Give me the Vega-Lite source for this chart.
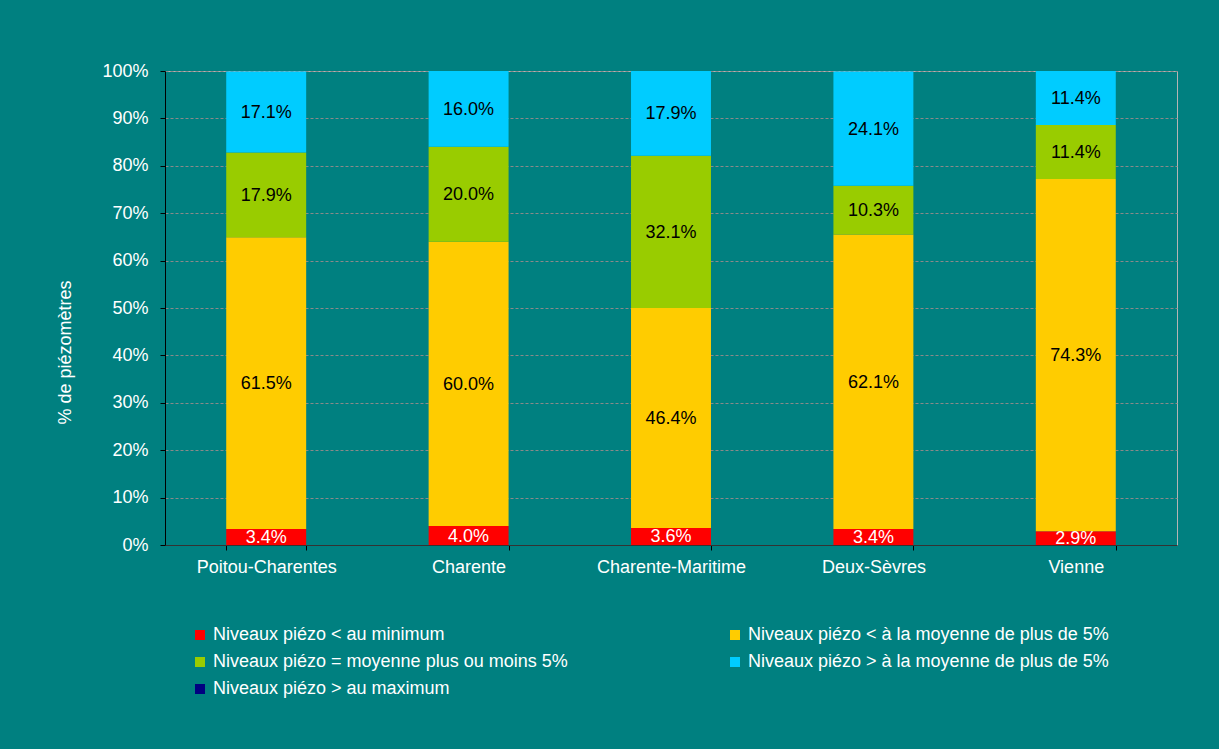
{
  "$schema": "https://vega.github.io/schema/vega-lite/v6.json",
  "width": 1012,
  "height": 474,
  "autosize": {"type": "none"},
  "padding": {"left": 165, "top": 71, "right": 42, "bottom": 204},
  "background": "#008080",
  "config": {
    "view": {"stroke": "#b4b4b4", "strokeWidth": 1},
    "font": "Liberation Sans",
    "axisY": {
      "values": [0, 0.1, 0.2, 0.3, 0.4, 0.5, 0.6, 0.7, 0.8, 0.9, 1],
      "format": ".0%",
      "grid": true,
      "gridColor": "#8a8a8a",
      "gridDash": [3, 2],
      "gridWidth": 1,
      "domainColor": "#000000",
      "tickColor": "#000000",
      "tickSize": 5,
      "labelFontSize": 18,
      "labelColor": "#ffffff",
      "labelPadding": 12,
      "titleFontSize": 18,
      "titleFontWeight": "normal",
      "titleColor": "#ffffff",
      "titleX": -100,
      "titleY": 281,
      "titleAlign": "center",
      "titleBaseline": "middle",
      "titleAngle": 270
    }
  },
  "data": {
    "values": [
      {"region": "Poitou-Charentes", "cat": "Niveaux piézo < au minimum", "order": 1, "value": 0.034},
      {"region": "Poitou-Charentes", "cat": "Niveaux piézo < à la moyenne de plus de 5%", "order": 2, "value": 0.615},
      {"region": "Poitou-Charentes", "cat": "Niveaux piézo = moyenne plus ou moins 5%", "order": 3, "value": 0.179},
      {"region": "Poitou-Charentes", "cat": "Niveaux piézo > à la moyenne de plus de 5%", "order": 4, "value": 0.171},
      {"region": "Poitou-Charentes", "cat": "Niveaux piézo > au maximum", "order": 5, "value": 0},
      {"region": "Charente", "cat": "Niveaux piézo < au minimum", "order": 1, "value": 0.040},
      {"region": "Charente", "cat": "Niveaux piézo < à la moyenne de plus de 5%", "order": 2, "value": 0.600},
      {"region": "Charente", "cat": "Niveaux piézo = moyenne plus ou moins 5%", "order": 3, "value": 0.200},
      {"region": "Charente", "cat": "Niveaux piézo > à la moyenne de plus de 5%", "order": 4, "value": 0.160},
      {"region": "Charente", "cat": "Niveaux piézo > au maximum", "order": 5, "value": 0},
      {"region": "Charente-Maritime", "cat": "Niveaux piézo < au minimum", "order": 1, "value": 0.036},
      {"region": "Charente-Maritime", "cat": "Niveaux piézo < à la moyenne de plus de 5%", "order": 2, "value": 0.464},
      {"region": "Charente-Maritime", "cat": "Niveaux piézo = moyenne plus ou moins 5%", "order": 3, "value": 0.321},
      {"region": "Charente-Maritime", "cat": "Niveaux piézo > à la moyenne de plus de 5%", "order": 4, "value": 0.179},
      {"region": "Charente-Maritime", "cat": "Niveaux piézo > au maximum", "order": 5, "value": 0},
      {"region": "Deux-Sèvres", "cat": "Niveaux piézo < au minimum", "order": 1, "value": 0.034},
      {"region": "Deux-Sèvres", "cat": "Niveaux piézo < à la moyenne de plus de 5%", "order": 2, "value": 0.621},
      {"region": "Deux-Sèvres", "cat": "Niveaux piézo = moyenne plus ou moins 5%", "order": 3, "value": 0.103},
      {"region": "Deux-Sèvres", "cat": "Niveaux piézo > à la moyenne de plus de 5%", "order": 4, "value": 0.241},
      {"region": "Deux-Sèvres", "cat": "Niveaux piézo > au maximum", "order": 5, "value": 0},
      {"region": "Vienne", "cat": "Niveaux piézo < au minimum", "order": 1, "value": 0.029},
      {"region": "Vienne", "cat": "Niveaux piézo < à la moyenne de plus de 5%", "order": 2, "value": 0.743},
      {"region": "Vienne", "cat": "Niveaux piézo = moyenne plus ou moins 5%", "order": 3, "value": 0.114},
      {"region": "Vienne", "cat": "Niveaux piézo > à la moyenne de plus de 5%", "order": 4, "value": 0.114},
      {"region": "Vienne", "cat": "Niveaux piézo > au maximum", "order": 5, "value": 0}
    ]
  },
  "transform": [
    {"stack": "value", "groupby": ["region"], "sort": [{"field": "order"}], "as": ["y0", "y1"]},
    {"calculate": "(datum.y0 + datum.y1) / 2", "as": "ymid"}
  ],
  "encoding": {
    "x": {
      "field": "region",
      "type": "nominal",
      "sort": ["Poitou-Charentes", "Charente", "Charente-Maritime", "Deux-Sèvres", "Vienne"],
      "scale": {"paddingInner": 0.605, "paddingOuter": 0.3025},
      "axis": {
        "title": null,
        "labelAngle": 0,
        "tickBand": "extent",
        "tickSize": 5,
        "tickColor": "#000000",
        "domainColor": "#333333",
        "labelFontSize": 18,
        "labelColor": "#ffffff",
        "labelPadding": 8,
        "grid": false
      }
    }
  },
  "layer": [
    {
      "mark": {"type": "bar"},
      "encoding": {
        "y": {
          "field": "y0",
          "type": "quantitative",
          "scale": {"domain": [0, 1]},
          "title": "% de piézomètres"
        },
        "y2": {"field": "y1"},
        "color": {
          "field": "cat",
          "type": "nominal",
          "scale": {
            "domain": [
              "Niveaux piézo < au minimum",
              "Niveaux piézo = moyenne plus ou moins 5%",
              "Niveaux piézo > au maximum",
              "Niveaux piézo < à la moyenne de plus de 5%",
              "Niveaux piézo > à la moyenne de plus de 5%"
            ],
            "range": ["#ff0000", "#99cc00", "#000080", "#ffcc00", "#00ccff"]
          },
          "legend": {
            "orient": "none",
            "legendX": 26,
            "legendY": 555,
            "columns": 2,
            "columnPadding": 158,
            "rowPadding": 9,
            "padding": 0,
            "title": null,
            "symbolType": "square",
            "symbolSize": 100,
            "symbolStrokeWidth": 0,
            "symbolOpacity": 1,
            "labelFontSize": 18,
            "labelColor": "#ffffff",
            "labelLimit": 600,
            "labelOffset": 4
          }
        }
      }
    },
    {
      "transform": [{"filter": "datum.value > 0"}],
      "mark": {"type": "text", "fontSize": 18, "baseline": "middle", "align": "center", "dy": 1},
      "encoding": {
        "y": {"field": "ymid", "type": "quantitative", "title": "% de piézomètres"},
        "text": {"field": "value", "format": ".1%"},
        "color": {
          "condition": {"test": "datum.order === 1", "value": "#ffffff"},
          "value": "#000000"
        }
      }
    }
  ]
}
